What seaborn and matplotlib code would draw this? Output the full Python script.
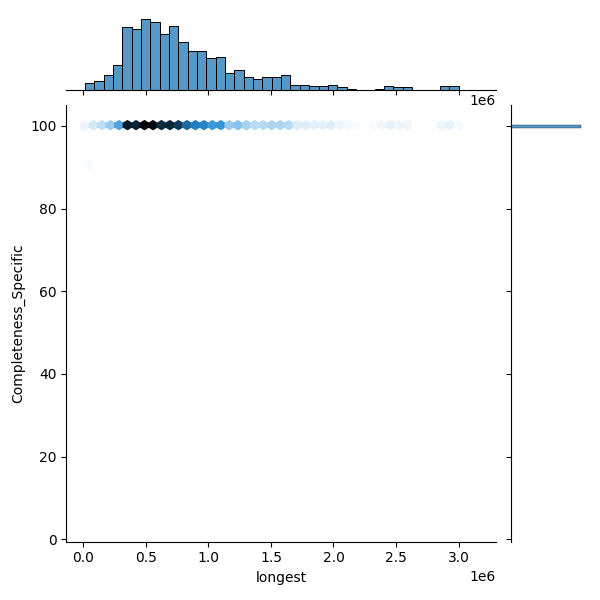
import numpy as np
import pandas as pd
import matplotlib
matplotlib.use("Agg")
import matplotlib as mpl
import matplotlib.pyplot as plt
import seaborn as sns

# x-marginal histogram: 40 bins between these edges
longest_min = 0.014e6
longest_max = 3.0e6
bin_counts = [27, 43, 70, 118, 301, 291, 339, 320, 267, 306,
              229, 186, 186, 152, 157, 80, 94, 61, 51, 61,
              61, 70, 27, 27, 22, 22, 27, 13, 8, 3,
              3, 8, 22, 13, 13, 0, 0, 3, 22, 18]

# nearly every genome sits at 100 % completeness
completeness_main = 100.0

# the few points below the top row
outlier_longest = [0.036e6, 0.042e6, 0.048e6, 0.054e6, 0.060e6, 0.60e6]
outlier_completeness = [90.8] * 5 + [4.2]


def build_points():
    # spread each bin's count evenly inside its bin
    edges = np.linspace(longest_min, longest_max, len(bin_counts) + 1)
    xs = [np.linspace(a, b, c + 2)[1:-1] for a, b, c in zip(edges[:-1], edges[1:], bin_counts)]
    x = np.concatenate(xs)
    y = np.full(len(x), completeness_main)
    df = pd.DataFrame({"longest": np.concatenate([x, outlier_longest]),
                       "Completeness_Specific": np.concatenate([y, outlier_completeness])})
    return df


df = build_points()
y_min = df["Completeness_Specific"].min()

# same white -> C0 -> black ramp seaborn uses for kind="hex"
color_rgb = mpl.colors.to_rgb("C0")
colors = [sns.utils.set_hls_values(color_rgb, l=l) for l in np.linspace(1, 0, 12)]
cmap = sns.blend_palette(colors, as_cmap=True)

g = sns.JointGrid(data=df, x="longest", y="Completeness_Specific", height=6)
g.plot_joint(plt.hexbin, gridsize=44, cmap=cmap,
             extent=(longest_min, longest_max, y_min, completeness_main))
sns.histplot(data=df, x="longest", ax=g.ax_marg_x, bins=len(bin_counts),
             binrange=(longest_min, longest_max), color="C0")
sns.histplot(data=df, y="Completeness_Specific", ax=g.ax_marg_y,
             binwidth=0.8, binrange=(y_min, 100.2), color="C0")

g.ax_joint.set_xlim(-0.135e6, 3.30e6)
g.ax_joint.set_xlabel("longest")
g.ax_joint.set_ylabel("Completeness_Specific")

g.figure.set_size_inches(6, 6)
g.figure.savefig("out.png", dpi=100)
